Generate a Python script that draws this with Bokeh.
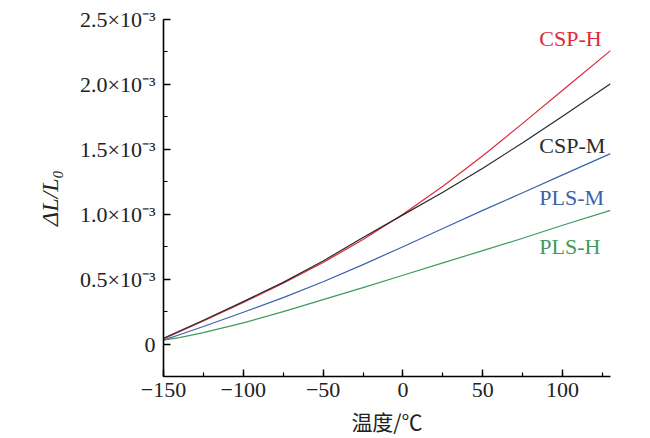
import numpy as np
from bokeh.plotting import figure
from bokeh.models import Range1d, FixedTicker, CustomJSTickFormatter, ColumnDataSource
from bokeh.core.properties import value
from bokeh.embed import file_html
from bokeh.resources import INLINE

# temperature (°C)
temp = [-150, -140, -125, -100, -75, -50, -25, 0, 25, 50, 75, 100, 130]
# ΔL/L0 in units of 1e-3
csp_h = [0.04, 0.095, 0.178, 0.32, 0.468, 0.628, 0.805, 1.0, 1.215, 1.45, 1.70, 1.955, 2.26]
csp_m = [0.045, 0.10, 0.183, 0.327, 0.475, 0.64, 0.82, 0.995, 1.17, 1.355, 1.55, 1.755, 2.005]
pls_m = [0.03, 0.072, 0.135, 0.245, 0.358, 0.48, 0.612, 0.75, 0.89, 1.03, 1.165, 1.303, 1.467]
pls_h = [0.03, 0.05, 0.088, 0.163, 0.25, 0.342, 0.435, 0.53, 0.625, 0.72, 0.815, 0.915, 1.03]

series_names = ["CSP-H", "CSP-M", "PLS-M", "PLS-H"]
series_colors = ["#e0283c", "#2a2a2a", "#3a62ad", "#3f9a5c"]
label_x = [85.4, 85.4, 85.4, 85.4]
label_y = [2.354, 1.53, 1.13, 0.754]

p = figure(width=650, height=438, output_backend="svg", toolbar_location=None,
           x_range=Range1d(-150, 130), y_range=Range1d(-0.25, 2.5),
           min_border_left=163, min_border_right=40, min_border_top=19,
           min_border_bottom=60)
p.outline_line_color = None
p.grid.visible = False
p.background_fill_color = "white"
p.border_fill_color = "white"

for ys, c in zip([csp_h, csp_m, pls_m, pls_h], series_colors):
    p.line(temp, ys, line_color=c, line_width=1.2, line_join="round")

src = ColumnDataSource(dict(x=label_x, y=label_y, t=series_names, c=series_colors))
p.text(x="x", y="y", text="t", text_color="c", source=src,
       text_font=value("Liberation Serif"), text_font_size="22px",
       text_baseline="middle", text_align="left")

font = "Liberation Serif"
for ax in (p.xaxis[0], p.yaxis[0]):
    ax.axis_line_width = 1.6
    ax.axis_line_color = "black"
    ax.major_tick_in = 7
    ax.major_tick_out = 0
    ax.minor_tick_in = 4
    ax.minor_tick_out = 0
    ax.major_tick_line_width = 1.4
    ax.minor_tick_line_width = 1.2
    ax.major_tick_line_color = "black"
    ax.minor_tick_line_color = "black"
    ax.major_label_text_font = font
    ax.major_label_text_font_size = "22px"
    ax.major_label_text_color = "#222222"
    ax.axis_label_text_color = "#222222"

p.xaxis.ticker = FixedTicker(ticks=[-150, -100, -50, 0, 50, 100],
                             minor_ticks=[-150, -125, -100, -75, -50, -25, 0, 25, 50, 75, 100, 125])
p.yaxis.ticker = FixedTicker(ticks=[0, 0.5, 1.0, 1.5, 2.0, 2.5],
                             minor_ticks=[-0.25, 0, 0.25, 0.5, 0.75, 1.0, 1.25, 1.5, 1.75, 2.0, 2.25, 2.5])
p.xaxis.formatter = CustomJSTickFormatter(code="""
return tick < 0 ? "\u2212" + Math.abs(tick) : String(tick);
""")
p.yaxis.formatter = CustomJSTickFormatter(code="""
if (Math.abs(tick) < 1e-9) return "0";
return tick.toFixed(1) + "\u00d710\u207b\u00b3";
""")
p.xaxis.major_label_standoff = 6
p.yaxis.major_label_standoff = 8

p.xaxis.axis_label = "温度/℃"
p.xaxis.axis_label_text_font = "Noto Sans CJK SC"
p.xaxis.axis_label_text_font_size = "21px"
p.xaxis.axis_label_text_font_style = "normal"
p.xaxis.axis_label_standoff = 6

p.yaxis.axis_label = "ΔL/L₀"
p.yaxis.axis_label_text_font = font
p.yaxis.axis_label_text_font_size = "24px"
p.yaxis.axis_label_text_font_style = "italic"
p.yaxis.axis_label_standoff = 14

open("out.html", "w").write(file_html(p, INLINE))
